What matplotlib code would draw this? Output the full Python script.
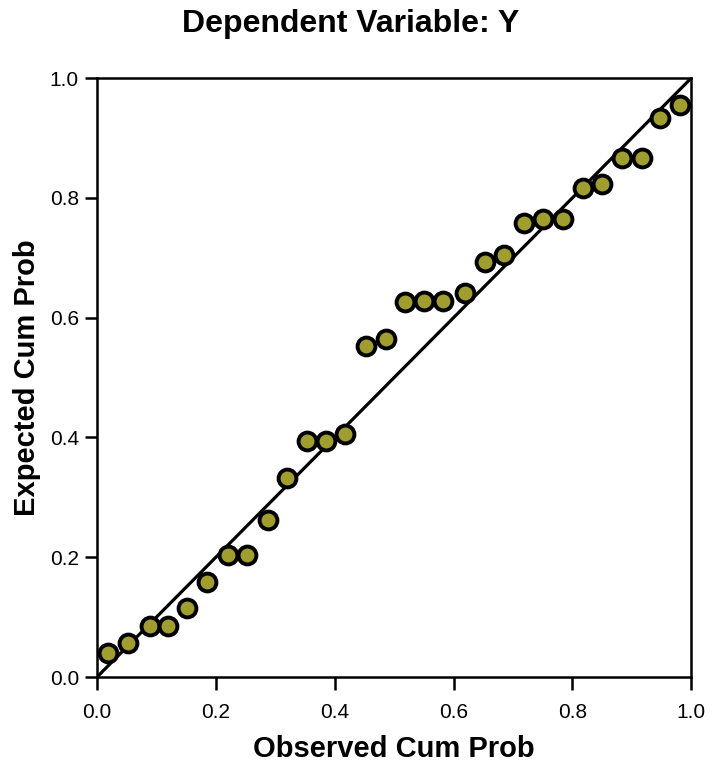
import matplotlib
matplotlib.use("Agg")
import matplotlib.pyplot as plt

plt.rcParams["font.family"] = ["Liberation Sans", "DejaVu Sans"]

# Observed vs expected cumulative probability
observed = [0.019, 0.052, 0.089, 0.120, 0.152, 0.185, 0.221, 0.253, 0.287, 0.320,
            0.354, 0.386, 0.418, 0.452, 0.486, 0.518, 0.550, 0.583, 0.619, 0.653,
            0.685, 0.718, 0.750, 0.784, 0.818, 0.850, 0.884, 0.917, 0.948, 0.981]
expected = [0.040, 0.057, 0.085, 0.085, 0.115, 0.159, 0.204, 0.204, 0.262, 0.332,
            0.394, 0.394, 0.406, 0.553, 0.564, 0.626, 0.628, 0.628, 0.641, 0.693,
            0.705, 0.758, 0.765, 0.765, 0.816, 0.823, 0.866, 0.866, 0.933, 0.955]
ticks = [0.0, 0.2, 0.4, 0.6, 0.8, 1.0]
tick_labels = ["0.0", "0.2", "0.4", "0.6", "0.8", "1.0"]

fig = plt.figure(figsize=(7.16, 7.65), dpi=100)
ax = fig.add_axes([0.1355, 0.115, 0.83, 0.783])

# reference diagonal
ax.plot([0, 1], [0, 1], color="black", linewidth=2.3, zorder=2)
ax.scatter(observed, expected, s=165, facecolor="#a09e2e", edgecolor="black",
           linewidth=2.8, zorder=3)

ax.set_xlim(0, 1)
ax.set_ylim(0, 1)
ax.set_xticks(ticks)
ax.set_xticklabels(tick_labels)
ax.set_yticks(ticks)
ax.set_yticklabels(tick_labels)
ax.tick_params(direction="out", length=9, width=1.8, labelsize=15, pad=4)
ax.tick_params(axis="x", pad=10)
for s in ax.spines.values():
    s.set_linewidth(1.8)

ax.set_xlabel("Observed Cum Prob", fontsize=21, fontweight="bold", labelpad=9)
ax.set_ylabel("Expected Cum Prob", fontsize=21, fontweight="bold", labelpad=6)
fig.text(0.49, 0.969, "Dependent Variable: Y", ha="center", va="center",
         fontsize=23, fontweight="bold")

plt.savefig("out.png", dpi=100)
plt.close()
